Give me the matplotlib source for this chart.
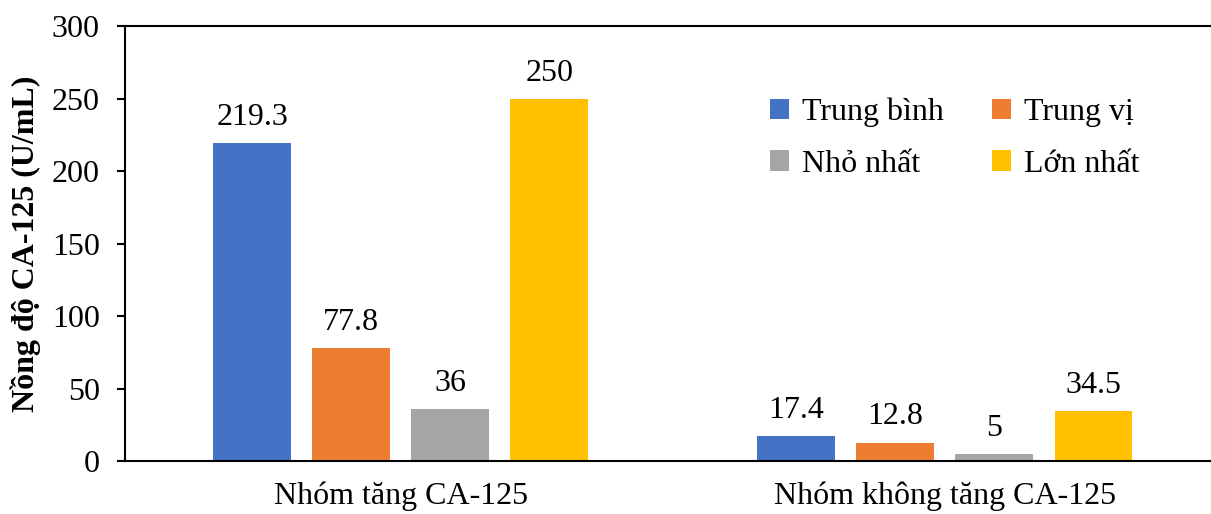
import matplotlib.pyplot as plt
import numpy as np

plt.rcParams['font.family'] = ['Liberation Serif', 'DejaVu Serif']

# Dữ liệu
groups = ['Nhóm tăng CA-125', 'Nhóm không tăng CA-125']
series = ['Trung bình', 'Trung vị', 'Nhỏ nhất', 'Lớn nhất']
trung_binh = [219.3, 17.4]
trung_vi = [77.8, 12.8]
nho_nhat = [36, 5]
lon_nhat = [250, 34.5]
colors = ['#4472C4', '#ED7D31', '#A5A5A5', '#FFC000']

fs = 23

fig = plt.figure(figsize=(12.11, 5.14), dpi=100)
ax = fig.add_axes([0.103, 0.103, 0.897, 0.846])

x = np.arange(len(groups))
width = 0.143
step = 0.182
handles = []
for i, (name, vals) in enumerate(zip(series, [trung_binh, trung_vi, nho_nhat, lon_nhat])):
    pos = x + (i - 1.5) * step
    bars = ax.bar(pos, vals, width, color=colors[i], label=name)
    ax.bar_label(bars, labels=[f'{v:g}' for v in vals], padding=8, fontsize=fs)
    handles.append(bars)

ax.set_ylim(0, 300)
ax.set_yticks(range(0, 301, 50))
ax.set_xlim(-0.507, 1.489)
ax.set_xticks(x)
ax.set_xticklabels(groups, fontsize=fs)
ax.tick_params(axis='x', length=0, pad=15)
ax.tick_params(axis='y', labelsize=fs, length=6, width=1.5, direction='out', pad=12)
ax.set_ylabel('Nồng độ CA-125 (U/mL)', fontsize=fs, fontweight='bold', labelpad=8)

ax.spines['right'].set_visible(False)
for s in ['left', 'bottom', 'top']:
    ax.spines[s].set_linewidth(1.5)

# thứ tự để legend xếp theo hàng: TB, TV / NN, LN
order = [0, 2, 1, 3]
ax.legend([handles[k] for k in order], [series[k] for k in order],
          loc='center', bbox_to_anchor=(0.764, 0.742), ncol=2, frameon=False,
          fontsize=fs, handlelength=0.6, handleheight=0.6, handletextpad=0.4,
          columnspacing=1.5, labelspacing=0.7)

fig.savefig('out.png', dpi=100)
